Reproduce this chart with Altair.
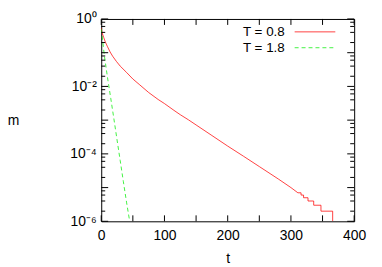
import altair as alt
import pandas as pd

# ---- data ----
red_t = [0, 1, 2, 4, 6, 8, 10, 14, 18, 24, 30, 40, 50, 60, 75, 90, 100, 115, 125,
         138, 150, 175, 200, 225, 250, 280, 300, 311, 316, 316, 320, 320, 327, 327,
         336, 336, 347.5, 347.5, 366, 366]
red_m = [0.54, 0.42, 0.36, 0.28, 0.22, 0.18, 0.15, 0.105, 0.079, 0.055, 0.040, 0.026,
         0.0166, 0.0115, 0.0066, 0.0041, 0.0031, 0.00195, 0.00145, 0.00102, 7.2e-4,
         3.5e-4, 1.7e-4, 8.5e-5, 4.2e-5, 1.8e-5, 1.0e-5, 7e-6, 7e-6, 6e-6, 6e-6, 5e-6,
         5e-6, 4e-6, 4e-6, 3e-6, 3e-6, 2e-6, 2e-6, 1e-6]
green_t = [0, 2, 5, 10, 15, 20, 25, 30, 35, 40, 45]
green_m = [0.5, 0.25, 0.08, 0.018, 0.0045, 1.1e-3, 2.6e-4, 6.3e-5, 1.5e-5, 3.7e-6, 1e-6]
series = ["T = 0.8", "T = 1.8"]
colors = ["#ff0000", "#00ee00"]

x_tick_vals = [0, 50, 100, 150, 200, 250, 300, 350, 400]
x_label_vals = [0, 100, 200, 300, 400]
y_decades = [1, 1e-1, 1e-2, 1e-3, 1e-4, 1e-5, 1e-6]
y_minor = [k * 10.0 ** (-e) for e in range(1, 7) for k in (2, 4, 6, 8)]
y_label_vals = [1, 1e-2, 1e-4, 1e-6]

W, H = 255, 204
FONT = "Liberation Sans"

xs = alt.Scale(domain=[0, 400], nice=False, zero=False)
ys = alt.Scale(type="log", domain=[1e-6, 1], nice=False)

xaxis = alt.Axis(values=x_label_vals, ticks=False, domain=False, grid=False,
                 labelFlush=False, labelFont=FONT, labelFontSize=14, labelColor="black",
                 labelPadding=7, title="t", titleFont=FONT, titleFontSize=14,
                 titleFontWeight="normal", titleColor="black", titleY=42,
                 titleBaseline="alphabetic")
yaxis = alt.Axis(values=y_label_vals, ticks=False, domain=False, grid=False,
                 labelFont=FONT, labelFontSize=14, labelColor="black", labelPadding=5,
                 labelOverlap=False,
                 labelExpr="datum.value > 0.5 ? '10⁰' : datum.value > 5e-3 ? '10⁻²' : datum.value > 5e-5 ? '10⁻⁴' : '10⁻⁶'",
                 title="m", titleFont=FONT, titleFontSize=14, titleFontWeight="normal",
                 titleColor="black", titleAngle=0, titleX=-89, titleY=H / 2,
                 titleAlign="center", titleBaseline="middle")

red_df = pd.DataFrame({"t": red_t, "m": red_m, "i": range(len(red_t))})
green_df = pd.DataFrame({"t": green_t, "m": green_m, "i": range(len(green_t))})

red = alt.Chart(red_df).mark_line(color=colors[0], strokeWidth=1, clip=True, opacity=0.75).encode(
    x=alt.X("t:Q", scale=xs, axis=xaxis),
    y=alt.Y("m:Q", scale=ys, axis=yaxis),
    order="i:Q")
green = alt.Chart(green_df).mark_line(color=colors[1], strokeWidth=1, strokeDash=[4, 3],
                                      clip=True, opacity=0.75).encode(
    x=alt.X("t:Q", scale=xs, axis=xaxis),
    y=alt.Y("m:Q", scale=ys, axis=yaxis),
    order="i:Q")

def yticks(vals, length):
    df = pd.DataFrame({"m": vals})
    left = alt.Chart(df).mark_rule(color="black", strokeWidth=1).encode(
        y=alt.Y("m:Q", scale=ys, axis=yaxis), x=alt.value(0), x2=alt.value(length))
    right = alt.Chart(df).mark_rule(color="black", strokeWidth=1).encode(
        y=alt.Y("m:Q", scale=ys, axis=yaxis), x=alt.value(W - length), x2=alt.value(W))
    return [left, right]

xdf = pd.DataFrame({"t": x_tick_vals})
xb = alt.Chart(xdf).mark_rule(color="black", strokeWidth=1).encode(
    x=alt.X("t:Q", scale=xs, axis=xaxis), y=alt.value(H - 6), y2=alt.value(H))
xt = alt.Chart(xdf).mark_rule(color="black", strokeWidth=1).encode(
    x=alt.X("t:Q", scale=xs, axis=xaxis), y=alt.value(0), y2=alt.value(6))

legend_layers = []
for i, (name, col) in enumerate(zip(series, colors)):
    ldf = pd.DataFrame({"label": [name]})
    yy = 13 + 16 * i
    legend_layers.append(alt.Chart(ldf).mark_text(align="right", baseline="middle", font=FONT,
                                                  fontSize=13.5, color="black").encode(
        x=alt.value(185), y=alt.value(yy), text="label:N"))
    kw = {"strokeDash": [4, 3]} if i == 1 else {}
    legend_layers.append(alt.Chart(ldf).mark_rule(color=col, strokeWidth=1, opacity=0.75, **kw).encode(
        x=alt.value(195), x2=alt.value(236), y=alt.value(yy)))

chart = alt.layer(
    red, green, *yticks(y_decades, 7), *yticks(y_minor, 4), xb, xt, *legend_layers
).properties(
    width=W, height=H,
    autosize=alt.AutoSizeParams(type="none"),
    padding={"left": 94, "top": 10, "right": 20, "bottom": 44},
).configure_view(stroke="black", strokeWidth=1)

chart.save("out.html", embed_options={"renderer": "svg", "actions": False})
